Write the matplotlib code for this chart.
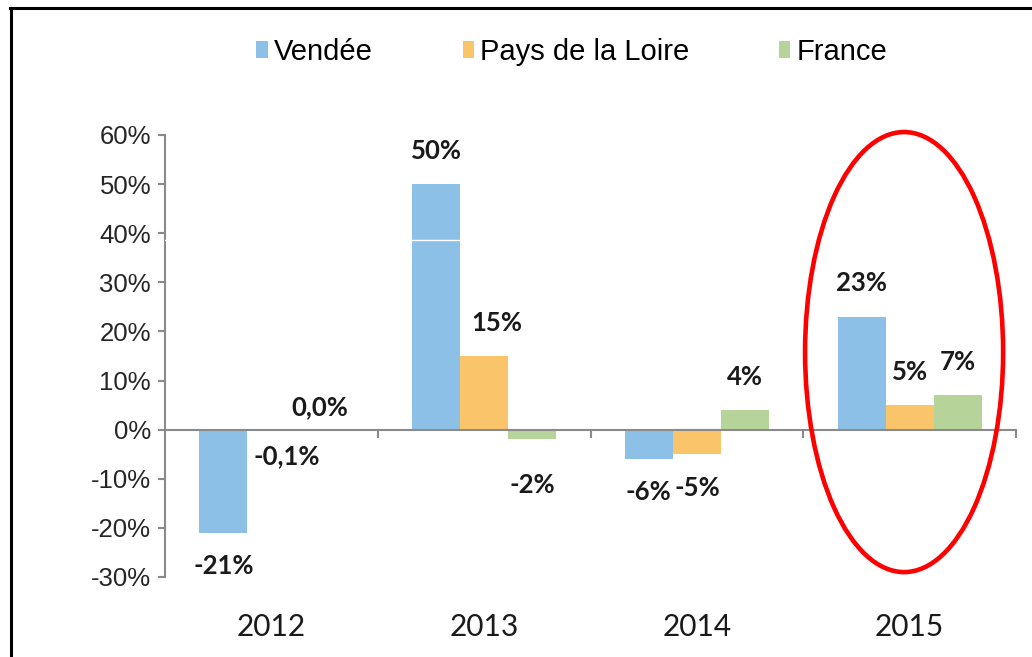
import matplotlib
matplotlib.use("Agg")
import matplotlib.pyplot as plt
import matplotlib.transforms as mtransforms
from matplotlib.patches import Patch, Ellipse
from matplotlib.lines import Line2D
import numpy as np

# Évolution annuelle (%)
annees = ["2012", "2013", "2014", "2015"]
vendee = [-21, 50, -6, 23]
pays_loire = [-0.1, 15, -5, 5]
france = [0.0, -2, 4, 7]
series = ["Vendée", "Pays de la Loire", "France"]
decimales = [[0, 0, 0, 0], [1, 0, 0, 0], [1, 0, 0, 0]]

couleurs = ["#8DC0E7", "#FAC46A", "#B6D499"]
gris = "#8A8A8A"

fig = plt.figure(figsize=(10.32, 6.57), dpi=100)
ax = fig.add_axes([165 / 1032, 1 - 577 / 657, (1016 - 165) / 1032, (577 - 135) / 657])

x = np.arange(len(annees))
largeur = 0.226
valeurs = [vendee, pays_loire, france]

# petits décalages des étiquettes (points)
decal_x = {(1, 0): 11, (1, 1): 9}
decal_y = {(1, 0): -19, (2, 0): 16, (2, 1): -33}

for i, (vals, coul) in enumerate(zip(valeurs, couleurs)):
    pos = x + (i - 1) * largeur
    ax.bar(pos, vals, largeur, color=coul, zorder=2)
    for j, v in enumerate(vals):
        d = decimales[i][j]
        txt = f"{v:.{d}f}%".replace(".", ",")
        dy = 24 if v >= 0 else -24
        dy = decal_y.get((i, j), dy)
        dx = decal_x.get((i, j), 0)
        ax.annotate(txt, (pos[j], v), xytext=(dx, dy), textcoords="offset points",
                    ha="center", va="center", fontsize=18.5, fontweight="bold",
                    family="Lato", color="#1A1A1A")

# pli blanc dans l'image d'origine
ax.axhline(38.6, color="white", lw=1, zorder=4)

ax.set_xlim(-0.5, 3.5)
ax.set_ylim(-30, 60)
ax.set_yticks(range(-30, 61, 10))
ax.set_yticklabels([f"{t}%" for t in range(-30, 61, 10)], family="Liberation Sans",
                   fontsize=18.5, color="#262626")
ax.tick_params(axis="y", length=5, width=1.5, color=gris, pad=5)

for s in ["top", "right"]:
    ax.spines[s].set_visible(False)
ax.spines["left"].set_color(gris)
ax.spines["left"].set_linewidth(1.5)
ax.spines["bottom"].set_position(("data", 0))
ax.spines["bottom"].set_color(gris)
ax.spines["bottom"].set_linewidth(1.5)
ax.set_xticks(x + 0.5)
ax.set_xticklabels([])
ax.tick_params(axis="x", length=6, width=1.5, color=gris)

trans = mtransforms.blended_transform_factory(ax.transData, ax.transAxes)
for xi, a in zip(x, annees):
    ax.text(xi, -0.113, a, transform=trans, ha="center", va="center",
            fontsize=21.5, family="Lato", color="#1A1A1A")

# légende
poignees = [Patch(facecolor=c, edgecolor="none") for c in couleurs]
fig.legend(poignees, series, loc="center", bbox_to_anchor=(0.554, 0.921), ncol=3,
           frameon=False, handlelength=0.38, handleheight=0.5, handletextpad=0.2,
           columnspacing=3.1, prop={"family": "Liberation Sans", "size": 21})

# cercle rouge autour de 2015
ell = Ellipse((2.974, 15.8), 0.931, 89.6, fill=False, edgecolor="#FF0000",
              lw=3.3, clip_on=False, zorder=5)
ax.add_patch(ell)

# cadre noir (haut et gauche)
fig.add_artist(Line2D([10 / 1032, 1], [1 - 7.5 / 657] * 2, color="black", lw=2.2,
                      transform=fig.transFigure))
fig.add_artist(Line2D([11 / 1032] * 2, [0, 1 - 7.5 / 657], color="black", lw=2.2,
                      transform=fig.transFigure))

fig.savefig("out.png", dpi=100, facecolor="white")
